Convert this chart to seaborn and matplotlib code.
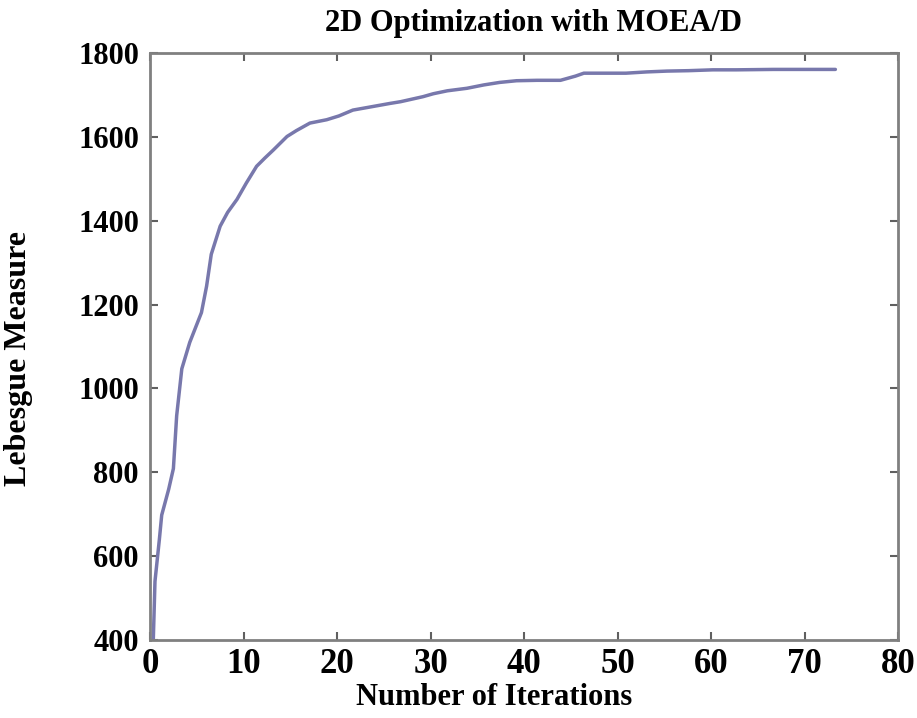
import matplotlib
matplotlib.use("Agg")
import matplotlib.pyplot as plt
import seaborn as sns
import pandas as pd

iterations = [0.35, 0.53, 1.0, 1.25, 2.0, 2.5, 2.85, 3.4, 4.25, 5.5, 6.05, 6.55, 7.5, 8.3, 9.3,
              10.3, 11.4, 12.3, 13.2, 14.65, 15.65, 17.1, 18.9, 20.2, 21.7, 23.2, 25.7, 26.8,
              29.2, 30.3, 31.8, 33.9, 35.7, 37.4, 39.2, 41.4, 43.9, 45.5, 46.4, 48.5, 50.9,
              53.1, 55.3, 57.6, 60.2, 62.7, 66.7, 70.7, 73.3]
lebesgue = [400, 540, 640, 698, 760, 809, 935, 1047, 1110, 1181, 1244, 1320, 1387, 1420, 1451,
            1490, 1530, 1550, 1569, 1601, 1615, 1633, 1641, 1650, 1664, 1670, 1680, 1684,
            1696, 1703, 1710, 1716, 1724, 1730, 1734, 1735, 1735, 1745, 1752, 1752, 1752,
            1755, 1757, 1758, 1760, 1760, 1761, 1761, 1761]

df = pd.DataFrame({"Number of Iterations": iterations, "Lebesgue Measure": lebesgue})

sns.set_theme(style="white")
plt.rcParams["font.family"] = ["Liberation Serif", "DejaVu Serif"]

fig = plt.figure(figsize=(9.17, 7.18), dpi=100)
ax = fig.add_axes([0.1636, 0.1086, 0.8157, 0.8175])

sns.lineplot(data=df, x="Number of Iterations", y="Lebesgue Measure", ax=ax,
             color="#7878ac", linewidth=2.5, sort=False, estimator=None)

ax.set_xlim(0, 80)
ax.set_ylim(400, 1800)
ax.set_xticks(range(0, 81, 10))
ax.set_yticks(range(400, 1801, 200))

for s in ax.spines.values():
    s.set_color("#808080")
    s.set_linewidth(2)

ax.tick_params(axis="both", direction="in", length=6, width=1.5, color="#606060",
               top=True, right=True, bottom=True, left=True)
ax.tick_params(axis="x", labelsize=25, pad=6)
ax.tick_params(axis="y", labelsize=22, pad=8)
for lab in ax.get_xticklabels() + ax.get_yticklabels():
    lab.set_fontweight("bold")
    lab.set_color("black")

ax.set_xlabel("Number of Iterations", fontsize=22, fontweight="bold", color="black")
ax.set_ylabel("Lebesgue Measure", fontsize=23, fontweight="bold", color="black")
ax.xaxis.set_label_coords(0.46, -0.074)
ax.yaxis.set_label_coords(-0.157, 0.48)
ax.set_title("2D Optimization with MOEA/D", fontsize=22, fontweight="bold", color="black",
             x=0.513, pad=16)

fig.savefig("out.png", dpi=100)
